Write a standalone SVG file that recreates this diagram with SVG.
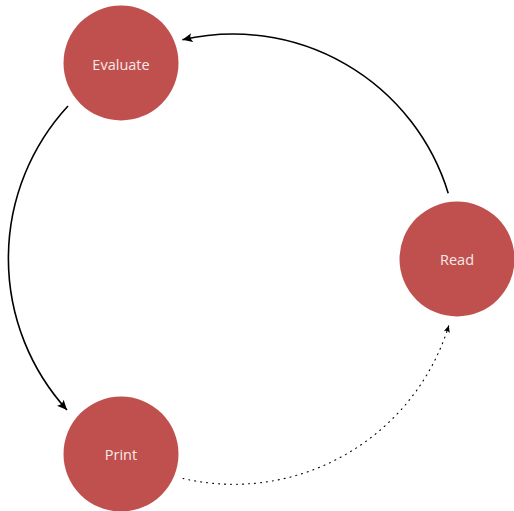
<svg xmlns="http://www.w3.org/2000/svg" width="514" height="511" viewBox="0 0 514 511">
<style>
.node{fill:#c0504d}
.lbl{fill:#f7eaea;font-family:"Open Sans","DejaVu Sans",sans-serif;font-size:14.5px;text-anchor:middle;dominant-baseline:central}
.edge{fill:none;stroke:#000;stroke-width:1.6}
.dot{fill:none;stroke:#000;stroke-width:1.1;stroke-dasharray:1 5;stroke-linecap:round}
</style>
<defs>
<marker id="ah" markerUnits="userSpaceOnUse" viewBox="-10 -5 11 10" refX="0" refY="0" markerWidth="11" markerHeight="10" orient="auto">
<path d="M0,0 L-10,-4.5 Q-6.5,0 -10,4.5 Z" fill="#000"/>
</marker>
<marker id="ahs" markerUnits="userSpaceOnUse" viewBox="-10 -5 11 10" refX="0" refY="0" markerWidth="8" markerHeight="7" orient="auto">
<path d="M0,0 L-10,-4.5 Q-6.5,0 -10,4.5 Z" fill="#000"/>
</marker>
</defs>
<g id="connectors">
<path class="edge" d="M448.2,193.2 A225,225 0 0 0 182.4,39.8" marker-end="url(#ah)"/>
<path class="edge" d="M68,106 A225,225 0 0 0 67,410" marker-end="url(#ah)"/>
<path class="dot" d="M183,478.5 A225,225 0 0 0 448.8,325.5" marker-end="url(#ahs)"/>
</g>
<g id="evaluate"><circle class="node" cx="121" cy="63" r="57.5"/><text class="lbl" x="121" y="64">Evaluate</text></g>
<g id="read"><circle class="node" cx="457" cy="259" r="57.5"/><text class="lbl" x="457" y="259">Read</text></g>
<g id="print"><circle class="node" cx="121" cy="454" r="57.5"/><text class="lbl" x="121" y="454">Print</text></g>
</svg>
